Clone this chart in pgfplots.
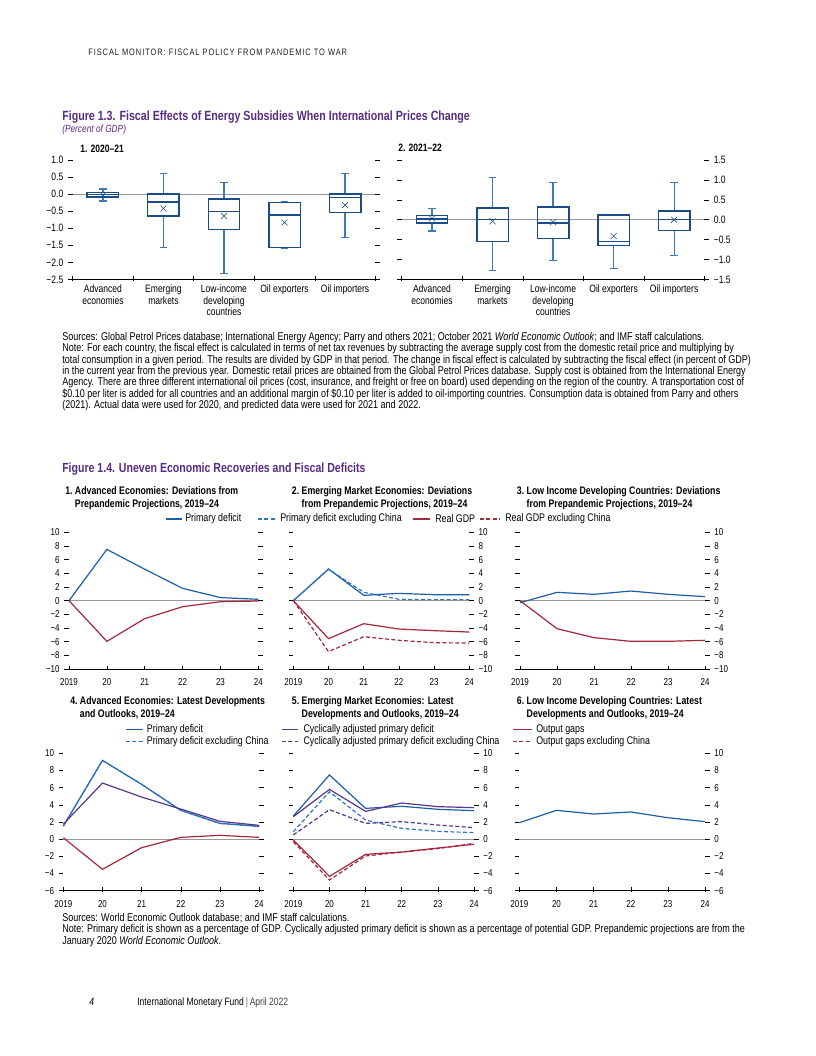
\documentclass[border=0pt]{standalone}
\usepackage{fontspec}
\setmainfont{Liberation Sans}[FakeStretch=0.8]
\usepackage{pgfplots}
\pgfplotsset{compat=1.18}
\usepgfplotslibrary{statistics}
\definecolor{imfpurple}{RGB}{88,44,131}
\definecolor{lblue}{RGB}{30,94,163}
\definecolor{dblue}{RGB}{46,117,190}
\definecolor{lred}{RGB}{163,41,61}
\definecolor{lpurple}{RGB}{84,56,140}
\definecolor{zgray}{RGB}{150,150,150}
\definecolor{boxnavy}{RGB}{26,76,136}
\definecolor{whisk}{RGB}{62,122,186}
\tikzset{dsh/.style={dash pattern=on 3pt off 1.8pt},
  cat/.style={anchor=north, align=center, inner sep=0pt, yshift=-4pt, font=\fontsize{8}{8.5}\selectfont}}
\pgfplotsset{
  imf/.style={scale only axis, clip=false, axis line style={draw=none},
    tick align=outside, major tick length=3.5pt,
    tick style={black, line width=0.4pt},
    xtick pos=left, ytick pos=both,
    xtick style={yshift=2.6pt},
    tick label style={font=\fontsize{7.5}{8}\selectfont},
    anchor=south west},
  fig14/.style={imf, xmin=0, xmax=5, xtick={0,...,5}, xticklabels={2019,20,21,22,23,24}},
  row1/.style={fig14, ymin=-10, ymax=10, ytick={-10,-8,...,10}, yticklabels={−10,−8,−6,−4,−2,0,2,4,6,8,10}, height=102.5pt},
  row2/.style={fig14, ymin=-6, ymax=10, ytick={-6,-4,...,10}, yticklabels={−6,−4,−2,0,2,4,6,8,10}, height=103pt},
  pl/.style={line width=0.9pt, mark=none},
  bx/.style={imf, height=89.6pt, width=227pt, xmin=0.5, xmax=5.5,
    xtick={0.5,1.5,...,5.5}, xticklabels={,,,,,},
    tick label style={font=\fontsize{8}{9}\selectfont},
    boxplot/draw direction=y,
    boxplot/box extend=0.52, boxplot/whisker extend=0.13,
    boxplot/every box/.style={draw=boxnavy, line width=1.1pt},
    boxplot/every whisker/.style={draw=whisk, line width=0.9pt},
    boxplot/every median/.style={draw=boxnavy, line width=0.9pt},
    boxplot/every average/.style={/tikz/mark=x, /tikz/mark size=3.2pt, /tikz/mark options={draw=whisk, line width=0.8pt}}},
}
\newcommand{\ptitle}[2]{#1~\begin{tabular}[t]{@{}l@{}}#2\end{tabular}}
\begin{document}
\begin{tikzpicture}
\useasboundingbox[fill=white] (0,0) rectangle (612pt,-792pt);
\begin{scope}[x=0.75pt,y=-0.75pt]
\node[anchor=base west, inner sep=0, text=black!88, font=\fontsize{7}{8}\selectfont\addfontfeature{LetterSpace=10}] at (88,56) {FISCAL MONITOR: FISCAL POLICY FROM PANDEMIC TO WAR};
\node[anchor=base west, inner sep=0, text=imfpurple, font=\fontsize{10}{11}\selectfont\bfseries] at (62,120) {Figure 1.3. Fiscal Effects of Energy Subsidies When International Prices Change};
\node[anchor=base west, inner sep=0, text=imfpurple, font=\fontsize{7.8}{9}\selectfont\itshape] at (62,132) {(Percent of GDP)};
\node[anchor=base west, inner sep=0, font=\fontsize{8}{9}\selectfont\bfseries] at (80,152.3) {1. 2020–21};
\node[anchor=base west, inner sep=0, font=\fontsize{8}{9}\selectfont\bfseries] at (398,151.7) {2. 2021–22};
\node[anchor=base west, inner sep=0] at (62,340.5) {\parbox[t]{640pt}{\raggedright\fontsize{8.45}{8.5}\selectfont
Sources: Global Petrol Prices database; International Energy Agency; Parry and others 2021; October 2021 \textit{World Economic Outlook}; and IMF staff calculations.\\
Note: For each country, the fiscal effect is calculated in terms of net tax revenues by subtracting the average supply cost from the domestic retail price and multiplying by\\
total consumption in a given period. The results are divided by GDP in that period. The change in fiscal effect is calculated by subtracting the fiscal effect (in percent of GDP)\\
in the current year from the previous year. Domestic retail prices are obtained from the Global Petrol Prices database. Supply cost is obtained from the International Energy\\
Agency. There are three different international oil prices (cost, insurance, and freight or free on board) used depending on the region of the country. A transportation cost of\\
\$0.10 per liter is added for all countries and an additional margin of \$0.10 per liter is added to oil-importing countries. Consumption data is obtained from Parry and others\\
(2021). Actual data were used for 2020, and predicted data were used for 2021 and 2022.}};
\node[anchor=base west, inner sep=0, text=imfpurple, font=\fontsize{9.9}{11}\selectfont\bfseries] at (62,472) {Figure 1.4. Uneven Economic Recoveries and Fiscal Deficits};
\begin{scope}[every node/.style={anchor=base west, inner sep=0, font=\fontsize{8.2}{9.4}\selectfont\bfseries}]
\node at (65,494.5) {\ptitle{1.}{Advanced Economies: Deviations from\\Prepandemic Projections, 2019–24}};
\node at (291.7,494.5) {\ptitle{2.}{Emerging Market Economies: Deviations\\from Prepandemic Projections, 2019–24}};
\node at (516.7,494.5) {\ptitle{3.}{Low Income Developing Countries: Deviations\\from Prepandemic Projections, 2019–24}};
\node at (70,704.5) {\ptitle{4.}{Advanced Economies: Latest Developments\\and Outlooks, 2019–24}};
\node at (291.7,704.5) {\ptitle{5.}{Emerging Market Economies: Latest\\Developments and Outlooks, 2019–24}};
\node at (516.7,704.5) {\ptitle{6.}{Low Income Developing Countries: Latest\\Developments and Outlooks, 2019–24}};
\end{scope}
\begin{scope}[every node/.style={anchor=west, inner sep=0, font=\fontsize{8.3}{9}\selectfont}]
\draw[lblue, line width=0.9pt] (166,519) -- (182,519); \node at (185,519) {Primary deficit};
\draw[dblue, line width=0.9pt, dsh] (258,519) -- (276,519); \node at (280,519) {Primary deficit excluding China};
\draw[lred, line width=0.9pt] (413,519) -- (430,519); \node at (435,519) {Real GDP};
\draw[lred, line width=0.9pt, dsh] (480,519) -- (500,519); \node at (505,519) {Real GDP excluding China};
\draw[lblue, line width=0.9pt] (126,729.3) -- (143,729.3); \node at (146.7,729.3) {Primary deficit};
\draw[dblue, line width=0.9pt, dsh] (126,741.7) -- (143,741.7); \node at (146.7,741.7) {Primary deficit excluding China};
\draw[lpurple, line width=0.9pt] (281.7,729.3) -- (298,729.3); \node at (303.3,729.3) {Cyclically adjusted primary deficit};
\draw[lpurple, line width=0.9pt, dsh] (281.7,741.7) -- (298,741.7); \node at (303.3,741.7) {Cyclically adjusted primary deficit excluding China};
\draw[lred, line width=0.9pt] (513,729.3) -- (532,729.3); \node at (536,729.3) {Output gaps};
\draw[lred, line width=0.9pt, dsh] (513,741.7) -- (532,741.7); \node at (536,741.7) {Output gaps excluding China};
\end{scope}
\node[anchor=base west, inner sep=0] at (62,921.5) {\parbox[t]{640pt}{\raggedright\fontsize{8.45}{8.5}\selectfont
Sources: World Economic Outlook database; and IMF staff calculations.\\
Note: Primary deficit is shown as a percentage of GDP. Cyclically adjusted primary deficit is shown as a percentage of potential GDP. Prepandemic projections are from the\\
January 2020 \textit{World Economic Outlook}.}};
\node[anchor=base west, inner sep=0, font=\fontsize{8}{9}\selectfont\itshape] at (89,1005) {4};
\node[anchor=base west, inner sep=0, font=\fontsize{8}{9}\selectfont] at (137,1005) {International Monetary Fund\,\textcolor{black!60}{|}\,\textcolor{black!75}{April 2022}};
\end{scope}

% ---------- Figure 1.3 panel 1 ----------
\begin{axis}[bx, at={(54.5pt,-209.6pt)}, ymin=-2.5, ymax=1,
  ytick={-2.5,-2,...,1}, yticklabels={−2.5,−2.0,−1.5,−1.0,−0.5,0.0,0.5,1.0}]
\addplot[zgray, line width=0.5pt, forget plot] coordinates {(0.5,0) (5.5,0)};
\addplot[draw=boxnavy, boxplot prepared={draw position=1, lower whisker=-0.2, lower quartile=-0.08, median=-0.01, upper quartile=0.05, upper whisker=0.15, average=-0.03}] coordinates {};
\addplot[draw=boxnavy, boxplot prepared={draw position=2, lower whisker=-1.57, lower quartile=-0.64, median=-0.23, upper quartile=0.0, upper whisker=0.61, average=-0.42}] coordinates {};
\addplot[draw=boxnavy, boxplot prepared={draw position=3, lower whisker=-2.33, lower quartile=-1.04, median=-0.51, upper quartile=-0.14, upper whisker=0.35, average=-0.64}] coordinates {};
\addplot[draw=boxnavy, boxplot prepared={draw position=4, lower whisker=-1.6, lower quartile=-1.56, median=-0.61, upper quartile=-0.24, upper whisker=-0.21, average=-0.83}] coordinates {};
\addplot[draw=boxnavy, boxplot prepared={draw position=5, lower whisker=-1.27, lower quartile=-0.54, median=-0.10, upper quartile=0.01, upper whisker=0.61, average=-0.32}] coordinates {};
\draw[black, line width=0.5pt] (rel axis cs:0,0) -- (rel axis cs:1,0);
\node[cat] at (axis cs:1,-2.5) {Advanced\\economies};
\node[cat] at (axis cs:2,-2.5) {Emerging\\markets};
\node[cat] at (axis cs:3,-2.5) {Low-income\\developing\\countries};
\node[cat] at (axis cs:4,-2.5) {Oil exporters};
\node[cat] at (axis cs:5,-2.5) {Oil importers};
\end{axis}

% ---------- Figure 1.3 panel 2 ----------
\begin{axis}[bx, at={(301.3pt,-209.6pt)}, ymin=-1.5, ymax=1.5, yticklabel pos=right,
  ytick={-1.5,-1,...,1.5}, yticklabels={−1.5,−1.0,−0.5,0.0,0.5,1.0,1.5}]
\addplot[zgray, line width=0.5pt, forget plot] coordinates {(0.5,0) (5.5,0)};
\addplot[draw=boxnavy, boxplot prepared={draw position=1, lower whisker=-0.285, lower quartile=-0.08, median=0.02, upper quartile=0.11, upper whisker=0.285, average=0.03}] coordinates {};
\addplot[draw=boxnavy, boxplot prepared={draw position=2, lower whisker=-1.27, lower quartile=-0.54, median=0.0, upper quartile=0.30, upper whisker=1.06, average=-0.04}] coordinates {};
\addplot[draw=boxnavy, boxplot prepared={draw position=3, lower whisker=-1.02, lower quartile=-0.47, median=-0.08, upper quartile=0.32, upper whisker=0.93, average=-0.06}] coordinates {};
\addplot[draw=boxnavy, boxplot prepared={draw position=4, lower whisker=-1.22, lower quartile=-0.65, median=-0.54, upper quartile=0.12, upper whisker=0.13, average=-0.41}] coordinates {};
\addplot[draw=boxnavy, boxplot prepared={draw position=5, lower whisker=-0.89, lower quartile=-0.27, median=0.0, upper quartile=0.22, upper whisker=0.93, average=0.0}] coordinates {};
\draw[black, line width=0.5pt] (rel axis cs:0,0) -- (rel axis cs:1,0);
\node[cat] at (axis cs:1,-1.5) {Advanced\\economies};
\node[cat] at (axis cs:2,-1.5) {Emerging\\markets};
\node[cat] at (axis cs:3,-1.5) {Low-income\\developing\\countries};
\node[cat] at (axis cs:4,-1.5) {Oil exporters};
\node[cat] at (axis cs:5,-1.5) {Oil importers};
\end{axis}

% ---------- Figure 1.4 panel 1 ----------
\begin{axis}[row1, at={(51.75pt,-501.75pt)}, width=142pt]
\addplot[zgray, line width=0.5pt, forget plot] coordinates {(0,0) (5,0)};
\addplot[pl, lblue] coordinates {(0,0)(1,7.5)(2,4.6)(3,1.8)(4,0.45)(5,0.2)};
\addplot[pl, lred] coordinates {(0,0)(1,-5.95)(2,-2.63)(3,-0.88)(4,-0.15)(5,-0.05)};
\draw[black, line width=0.5pt] (rel axis cs:0,0) -- (rel axis cs:1,0);
\end{axis}

% ---------- Figure 1.4 panel 2 ----------
\begin{axis}[row1, at={(220pt,-501.75pt)}, width=132pt, yticklabel pos=right]
\addplot[zgray, line width=0.5pt, forget plot] coordinates {(0,0) (5,0)};
\addplot[pl, lblue] coordinates {(0,0)(1,4.63)(2,0.78)(3,1.07)(4,0.88)(5,0.88)};
\addplot[pl, dblue, dsh] coordinates {(0,0)(1,4.6)(2,1.22)(3,0.2)(4,0.15)(5,0.15)};
\addplot[pl, lred] coordinates {(0,0)(1,-5.56)(2,-3.37)(3,-4.15)(4,-4.39)(5,-4.59)};
\addplot[pl, lred, dsh] coordinates {(0,0)(1,-7.46)(2,-5.27)(3,-5.8)(4,-6.15)(5,-6.2)};
\draw[black, line width=0.5pt] (rel axis cs:0,0) -- (rel axis cs:1,0);
\end{axis}

% ---------- Figure 1.4 panel 3 ----------
\begin{axis}[row1, at={(390pt,-501.75pt)}, width=138.75pt, yticklabel pos=right]
\addplot[zgray, line width=0.5pt, forget plot] coordinates {(0,0) (5,0)};
\addplot[pl, lblue] coordinates {(0,-0.3)(1,1.22)(2,0.93)(3,1.41)(4,0.93)(5,0.59)};
\addplot[pl, lred] coordinates {(0,0)(1,-4.1)(2,-5.41)(3,-5.95)(4,-5.95)(5,-5.8)};
\draw[black, line width=0.5pt] (rel axis cs:0,0) -- (rel axis cs:1,0);
\end{axis}

% ---------- Figure 1.4 panel 4 ----------
\begin{axis}[row2, at={(47.5pt,-668pt)}, width=146.8pt]
\addplot[zgray, line width=0.5pt, forget plot] coordinates {(0,0) (5,0)};
\addplot[pl, lblue] coordinates {(0,1.53)(1,9.18)(2,6.39)(3,3.36)(4,1.84)(5,1.5)};
\addplot[pl, dblue, dsh] coordinates {(0,1.53)(1,9.18)(2,6.39)(3,3.36)(4,1.84)(5,1.5)};
\addplot[pl, lpurple] coordinates {(0,1.75)(1,6.54)(2,4.91)(3,3.51)(4,2.08)(5,1.61)};
\addplot[pl, lred] coordinates {(0,0.17)(1,-3.51)(2,-0.99)(3,0.21)(4,0.45)(5,0.21)};
\draw[black, line width=0.5pt] (rel axis cs:0,0) -- (rel axis cs:1,0);
\end{axis}

% ---------- Figure 1.4 panel 5 ----------
\begin{axis}[row2, at={(220pt,-668pt)}, width=135.5pt, yticklabel pos=right]
\addplot[zgray, line width=0.5pt, forget plot] coordinates {(0,0) (5,0)};
\addplot[pl, lblue] coordinates {(0,2.7)(1,7.48)(2,3.59)(3,3.83)(4,3.48)(5,3.32)};
\addplot[pl, dblue, dsh] coordinates {(0,0.87)(1,5.53)(2,2.23)(3,1.26)(4,0.91)(5,0.76)};
\addplot[pl, lpurple] coordinates {(0,2.62)(1,5.8)(2,3.24)(3,4.21)(4,3.79)(5,3.67)};
\addplot[pl, lpurple, dsh] coordinates {(0,0.49)(1,3.44)(2,1.84)(3,2.04)(4,1.65)(5,1.34)};
\addplot[pl, lred] coordinates {(0,-0.1)(1,-4.33)(2,-1.77)(3,-1.5)(4,-1.03)(5,-0.6)};
\addplot[pl, lred, dsh] coordinates {(0,-0.3)(1,-4.76)(2,-1.96)(3,-1.5)(4,-1.1)(5,-0.49)};
\draw[black, line width=0.5pt] (rel axis cs:0,0) -- (rel axis cs:1,0);
\end{axis}

% ---------- Figure 1.4 panel 6 ----------
\begin{axis}[row2, at={(389.5pt,-668pt)}, width=139.3pt, yticklabel pos=right]
\addplot[zgray, line width=0.5pt, forget plot] coordinates {(0,0) (5,0)};
\addplot[pl, lblue] coordinates {(0,1.92)(1,3.36)(2,2.93)(3,3.17)(4,2.5)(5,2.04)};
\draw[black, line width=0.5pt] (rel axis cs:0,0) -- (rel axis cs:1,0);
\end{axis}
\end{tikzpicture}
\end{document}
